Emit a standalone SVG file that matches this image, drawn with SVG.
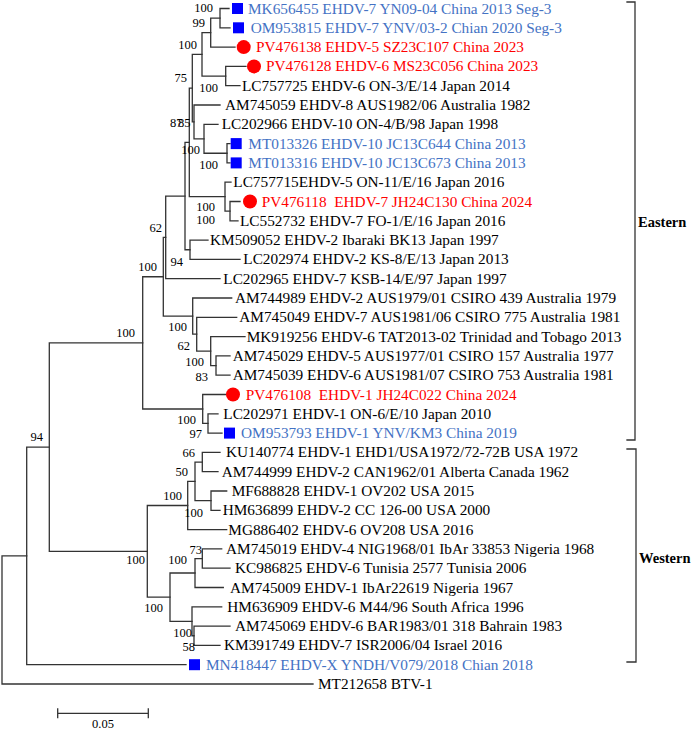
<svg xmlns="http://www.w3.org/2000/svg" width="696" height="730" viewBox="0 0 696 730">
<style>
.br{stroke:#333;stroke-width:1.3;fill:none;stroke-linecap:square}
.t{font-family:"Liberation Serif","Times New Roman",serif;font-size:15.3px;fill:#000;white-space:pre}
.b{fill:#4472C4}
.r{fill:#FF0000}
.bs{font-family:"Liberation Serif","Times New Roman",serif;font-size:12.5px;fill:#000;text-anchor:end}
.sq{fill:#0000FF}
.ci{fill:#FF0000}
.grp{font-family:"Liberation Serif","Times New Roman",serif;font-size:14.5px;font-weight:bold;fill:#000}
</style>
<rect width="696" height="730" fill="#fff"/>
<g id="connectors" class="br">
<path d="M220 8.5V27.8M220 8.5H229M220 27.8H230"/>
<path d="M210.7 18.15V47.1M210.7 18.15H220M210.7 47.1H235"/>
<path d="M225.7 66.4V85.7M225.7 66.4H246M225.7 85.7H240"/>
<path d="M202 32.6V76.05M202 32.6H210.7M202 76.05H225.7"/>
<path d="M227 143.6V162.9M227 143.6H230M227 162.9H230"/>
<path d="M204 124.3V153.25M204 124.3H218M204 153.25H227"/>
<path d="M194 105V138.8M194 105H220M194 138.8H204"/>
<path d="M192.3 54.3V121.9M192.3 54.3H202M192.3 121.9H194"/>
<path d="M230 201.5V220.8M230 201.5H240M230 220.8H238"/>
<path d="M225 182.2V211.15M225 182.2H231M225 211.15H230"/>
<path d="M189.3 88.1V196.7M189.3 88.1H192.3M189.3 196.7H225"/>
<path d="M190 240.1V259.4M190 240.1H208M190 259.4H240"/>
<path d="M185 142.4V249.75M185 142.4H189.3M185 249.75H190"/>
<path d="M165.7 196.1V278.7M165.7 196.1H185M165.7 278.7H220"/>
<path d="M216 355.9V375.2M216 355.9H230M216 375.2H230"/>
<path d="M210.7 336.6V365.55M210.7 336.6H245M210.7 365.55H216"/>
<path d="M196.7 317.3V351.1M196.7 317.3H236.7M196.7 351.1H210.7"/>
<path d="M192.7 298V334.2M192.7 298H231.7M192.7 334.2H196.7"/>
<path d="M163.3 237.4V316.1M163.3 237.4H165.7M163.3 316.1H192.7"/>
<path d="M208 413.8V433.1M208 413.8H218M208 433.1H222"/>
<path d="M202.7 394.5V423.45M202.7 394.5H226M202.7 423.45H208"/>
<path d="M142.7 276.75V408.98M142.7 276.75H163.3M142.7 408.98H202.7"/>
<path d="M202.3 452.4V471.7M202.3 452.4H220M202.3 471.7H218"/>
<path d="M211 491V510.3M211 491H226.7M211 510.3H220"/>
<path d="M195 462.05V500.65M195 462.05H202.3M195 500.65H211"/>
<path d="M187.7 481.35V529.6M187.7 481.35H195M187.7 529.6H226.7"/>
<path d="M202.3 548.9V568.2M202.3 548.9H221.7M202.3 568.2H230"/>
<path d="M195 558.55V587.5M195 558.55H202.3M195 587.5H223.3"/>
<path d="M194 626.1V645.4M194 626.1H230M194 645.4H220"/>
<path d="M192 606.8V635.75M192 606.8H221.7M192 635.75H194"/>
<path d="M170 573V621.3M170 573H195M170 621.3H192"/>
<path d="M147.3 505.5V597.15M147.3 505.5H187.7M147.3 597.15H170"/>
<path d="M49.3 342.9V551.3M49.3 342.9H142.7M49.3 551.3H147.3"/>
<path d="M26.7 447.1V664.7M26.7 447.1H49.3M26.7 664.7H186"/>
<path d="M2 555.9V684M2 555.9H26.7M2 684H313"/>
</g>
<g id="bootstrap" class="bs">
<text x="213" y="12.3">100</text>
<text x="205" y="27.3">99</text>
<text x="197" y="49.3">100</text>
<text x="187" y="82.3">75</text>
<text x="218" y="92.3">100</text>
<text x="182.5" y="127.3">87</text>
<text x="190.5" y="127.3">85</text>
<text x="200" y="154.3">100</text>
<text x="218" y="169.3">100</text>
<text x="215" y="211.3">100</text>
<text x="215" y="224.3">100</text>
<text x="162" y="232.3">62</text>
<text x="183" y="266.3">94</text>
<text x="157" y="271.3">100</text>
<text x="187" y="331.3">100</text>
<text x="135" y="337.3">100</text>
<text x="190" y="350.3">62</text>
<text x="204" y="366.3">100</text>
<text x="208" y="381.3">83</text>
<text x="196" y="424.3">100</text>
<text x="202" y="438.3">97</text>
<text x="43" y="441.3">94</text>
<text x="195" y="457.3">66</text>
<text x="188" y="476.3">50</text>
<text x="182" y="500.3">100</text>
<text x="203" y="517.3">100</text>
<text x="202" y="554.3">73</text>
<text x="145" y="564.3">100</text>
<text x="187" y="564.3">100</text>
<text x="163" y="612.3">100</text>
<text x="192" y="637.3">100</text>
<text x="195" y="651.3">58</text>
</g>
<g id="leaf-MK656455"><rect class="sq" x="232" y="3" width="11" height="11"/><text class="t b" x="248" y="13.5">MK656455 EHDV-7 YN09-04 China 2013 Seg-3</text></g>
<g id="leaf-OM953815"><rect class="sq" x="233" y="22.3" width="11" height="11"/><text class="t b" x="250.7" y="32.8">OM953815 EHDV-7 YNV/03-2 Chian 2020 Seg-3</text></g>
<g id="leaf-PV476138"><circle class="ci" cx="243.7" cy="47.1" r="7"/><text class="t r" x="256" y="52.1">PV476138 EHDV-5 SZ23C107 China 2023</text></g>
<g id="leaf-PV476128"><circle class="ci" cx="254" cy="66.4" r="7"/><text class="t r" x="266" y="71.4">PV476128 EHDV-6 MS23C056 China 2023</text></g>
<g id="leaf-LC757725"><text class="t" x="242" y="90.7">LC757725 EHDV-6 ON-3/E/14 Japan 2014</text></g>
<g id="leaf-AM745059"><text class="t" x="225" y="110">AM745059 EHDV-8 AUS1982/06 Australia 1982</text></g>
<g id="leaf-LC202966"><text class="t" x="221.7" y="129.3">LC202966 EHDV-10 ON-4/B/98 Japan 1998</text></g>
<g id="leaf-MT013326"><rect class="sq" x="230.7" y="138.1" width="11" height="11"/><text class="t b" x="248.3" y="148.6">MT013326 EHDV-10 JC13C644 China 2013</text></g>
<g id="leaf-MT013316"><rect class="sq" x="230.7" y="157.4" width="11" height="11"/><text class="t b" x="248.3" y="167.9">MT013316 EHDV-10 JC13C673 China 2013</text></g>
<g id="leaf-LC757715"><text class="t" x="233.3" y="187.2">LC757715EHDV-5 ON-11/E/16 Japan 2016</text></g>
<g id="leaf-PV476118"><circle class="ci" cx="250" cy="201.5" r="7"/><text class="t r" x="261.7" y="206.5">PV476118  EHDV-7 JH24C130 China 2024</text></g>
<g id="leaf-LC552732"><text class="t" x="240" y="225.8">LC552732 EHDV-7 FO-1/E/16 Japan 2016</text></g>
<g id="leaf-KM509052"><text class="t" x="210" y="245.1">KM509052 EHDV-2 Ibaraki BK13 Japan 1997</text></g>
<g id="leaf-LC202974"><text class="t" x="243.3" y="264.4">LC202974 EHDV-2 KS-8/E/13 Japan 2013</text></g>
<g id="leaf-LC202965"><text class="t" x="223.3" y="283.7">LC202965 EHDV-7 KSB-14/E/97 Japan 1997</text></g>
<g id="leaf-AM744989"><text class="t" x="235" y="303">AM744989 EHDV-2 AUS1979/01 CSIRO 439 Australia 1979</text></g>
<g id="leaf-AM745049"><text class="t" x="239.3" y="322.3">AM745049 EHDV-7 AUS1981/06 CSIRO 775 Australia 1981</text></g>
<g id="leaf-MK919256"><text class="t" x="246.7" y="341.6">MK919256 EHDV-6 TAT2013-02 Trinidad and Tobago 2013</text></g>
<g id="leaf-AM745029"><text class="t" x="232.7" y="360.9">AM745029 EHDV-5 AUS1977/01 CSIRO 157 Australia 1977</text></g>
<g id="leaf-AM745039"><text class="t" x="232.7" y="380.2">AM745039 EHDV-6 AUS1981/07 CSIRO 753 Australia 1981</text></g>
<g id="leaf-PV476108"><circle class="ci" cx="233" cy="394.5" r="7"/><text class="t r" x="245.7" y="399.5">PV476108  EHDV-1 JH24C022 China 2024</text></g>
<g id="leaf-LC202971"><text class="t" x="223.3" y="418.8">LC202971 EHDV-1 ON-6/E/10 Japan 2010</text></g>
<g id="leaf-OM953793"><rect class="sq" x="224" y="427.6" width="11" height="11"/><text class="t b" x="241" y="438.1">OM953793 EHDV-1 YNV/KM3 China 2019</text></g>
<g id="leaf-KU140774"><text class="t" x="226" y="457.4">KU140774 EHDV-1 EHD1/USA1972/72-72B USA 1972</text></g>
<g id="leaf-AM744999"><text class="t" x="221.7" y="476.7">AM744999 EHDV-2 CAN1962/01 Alberta Canada 1962</text></g>
<g id="leaf-MF688828"><text class="t" x="231.7" y="496">MF688828 EHDV-1 OV202 USA 2015</text></g>
<g id="leaf-HM636899"><text class="t" x="222.7" y="515.3">HM636899 EHDV-2 CC 126-00 USA 2000</text></g>
<g id="leaf-MG886402"><text class="t" x="228.3" y="534.6">MG886402 EHDV-6 OV208 USA 2016</text></g>
<g id="leaf-AM745019"><text class="t" x="226" y="553.9">AM745019 EHDV-4 NIG1968/01 IbAr 33853 Nigeria 1968</text></g>
<g id="leaf-KC986825"><text class="t" x="235" y="573.2">KC986825 EHDV-6 Tunisia 2577 Tunisia 2006</text></g>
<g id="leaf-AM745009"><text class="t" x="230" y="592.5">AM745009 EHDV-1 IbAr22619 Nigeria 1967</text></g>
<g id="leaf-HM636909"><text class="t" x="227.3" y="611.8">HM636909 EHDV-6 M44/96 South Africa 1996</text></g>
<g id="leaf-AM745069"><text class="t" x="235" y="631.1">AM745069 EHDV-6 BAR1983/01 318 Bahrain 1983</text></g>
<g id="leaf-KM391749"><text class="t" x="224" y="650.4">KM391749 EHDV-7 ISR2006/04 Israel 2016</text></g>
<g id="leaf-MN418447"><rect class="sq" x="189" y="659.2" width="11" height="11"/><text class="t b" x="206" y="669.7">MN418447 EHDV-X YNDH/V079/2018 Chian 2018</text></g>
<g id="leaf-MT212658"><text class="t" x="318" y="689">MT212658 BTV-1</text></g>
<g id="group-eastern"><path class="br" d="M627 2H635V440H627"/><text class="grp" x="638" y="227">Eastern</text></g>
<g id="group-western"><path class="br" d="M627 449H636V662H627"/><text class="grp" x="639" y="563">Western</text></g>
<g id="scale-bar"><path class="br" d="M57.7 713.3H148.3M57.7 709V717.5M148.3 709V717.5"/><text class="bs" x="103" y="727.5" style="text-anchor:middle">0.05</text></g>
</svg>
